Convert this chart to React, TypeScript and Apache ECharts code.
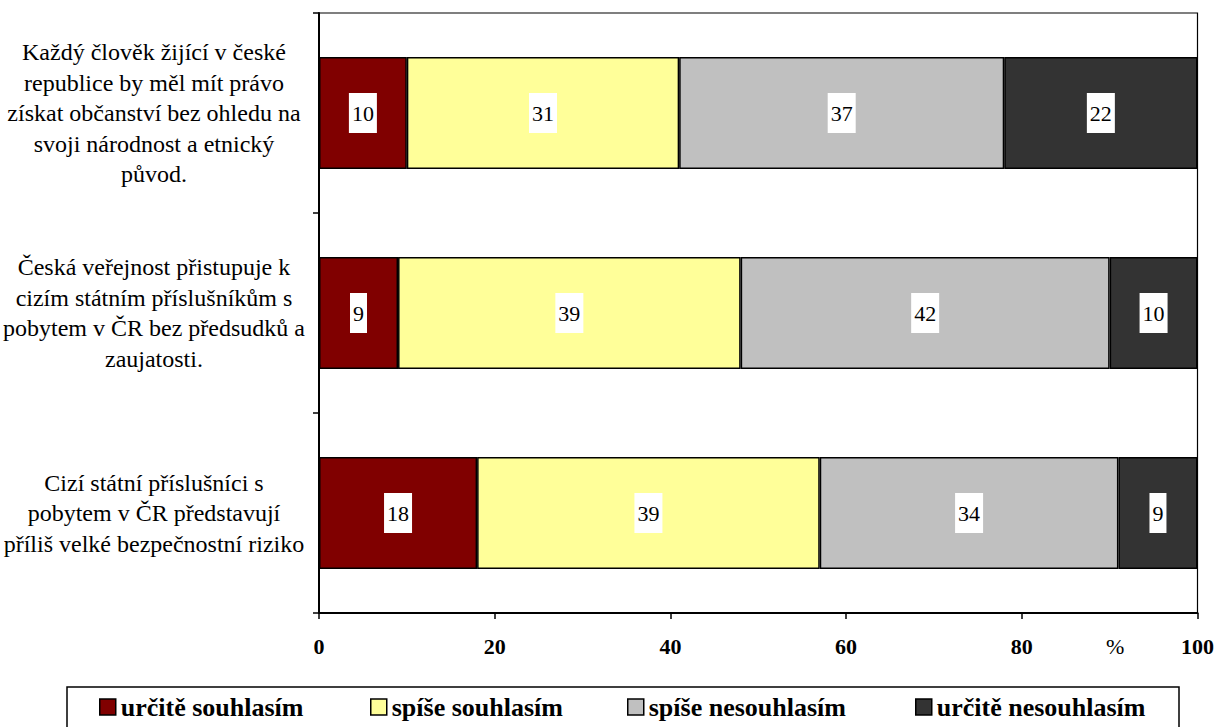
import React, { useEffect, useRef } from "react";
import * as echarts from "echarts";

const categories = [
  "Každý člověk žijící v české\nrepublice by měl mít právo\nzískat občanství bez ohledu na\nsvoji národnost a etnický\npůvod.",
  "Česká veřejnost přistupuje k\ncizím státním příslušníkům s\npobytem v ČR bez předsudků a\nzaujatosti.",
  "Cizí státní příslušníci s\npobytem v ČR představují\npříliš velké bezpečnostní riziko",
];

const seriesNames = ["určitě souhlasím", "spíše souhlasím", "spíše nesouhlasím", "určitě nesouhlasím"];
const urciteSouhlasim = [10, 9, 18];
const spiseSouhlasim = [31, 39, 39];
const spiseNesouhlasim = [37, 42, 34];
const urciteNesouhlasim = [22, 10, 9];
const colors = ["#800000", "#FFFF99", "#C0C0C0", "#333333"];
const unitLabel = "%";

const FONT = "Times New Roman, Liberation Serif, serif";
const legendLefts = [99, 370, 627, 915];

export default function App() {
  const ref = useRef<HTMLDivElement>(null);
  useEffect(() => {
    document.body.style.margin = "0";
    if (!ref.current) return;
    const chart = echarts.init(ref.current, undefined, { renderer: "svg" });
    const values = [urciteSouhlasim, spiseSouhlasim, spiseNesouhlasim, urciteNesouhlasim];
    chart.setOption({
      animation: false,
      backgroundColor: "#fff",
      textStyle: { fontFamily: FONT },
      grid: {
        left: 318,
        right: 17,
        top: 13,
        bottom: 114,
        show: true,
        borderColor: "#000",
        borderWidth: 1.2,
      },
      xAxis: {
        type: "value",
        min: 0,
        max: 100,
        interval: 20,
        axisLine: { show: true, lineStyle: { color: "#000", width: 2 } },
        axisTick: { show: true, length: 6, lineStyle: { color: "#000", width: 1.5 } },
        splitLine: { show: false },
        axisLabel: {
          color: "#000",
          fontFamily: FONT,
          fontWeight: "bold",
          fontSize: 22,
          margin: 22,
        },
      },
      yAxis: {
        type: "category",
        inverse: true,
        data: categories,
        axisLine: { show: true, lineStyle: { color: "#000", width: 2 } },
        axisTick: { show: true, length: 6, lineStyle: { color: "#000", width: 1.5 } },
        axisLabel: {
          color: "#000",
          fontFamily: FONT,
          fontSize: 24,
          lineHeight: 30.5,
          align: "center",
          margin: 165,
        },
      },
      legend: seriesNames.map((name, i) => ({
        left: legendLefts[i],
        top: 694,
        padding: 0,
        itemWidth: 16,
        itemHeight: 16,
        itemGap: 0,
        icon: "rect",
        textStyle: {
          color: "#000",
          fontFamily: FONT,
          fontWeight: "bold",
          fontSize: 26,
        },
        itemStyle: { borderColor: "#000", borderWidth: 1.5 },
        data: [name],
      })),
      graphic: [
        {
          type: "text",
          left: 1106,
          top: 635,
          style: {
            text: unitLabel,
            fill: "#000",
            fontFamily: FONT,
            fontSize: 22,
          },
        },
        {
          type: "rect",
          shape: { x: 67, y: 687, width: 1112, height: 60 },
          style: { fill: "none", stroke: "#000", lineWidth: 1.5 },
        },
      ],
      series: seriesNames.map((name, i) => ({
        name,
        type: "bar",
        stack: "total",
        barWidth: "56%",
        data: values[i],
        itemStyle: { color: colors[i], borderColor: "#000", borderWidth: 1.5 },
        label: {
          show: true,
          position: "inside",
          color: "#000",
          backgroundColor: "#fff",
          fontFamily: FONT,
          fontSize: 22,
          padding: [9, 3, 9, 3],
        },
      })),
    });
    return () => chart.dispose();
  }, []);
  return <div ref={ref} style={{ width: 1217, height: 727 }} />;
}
